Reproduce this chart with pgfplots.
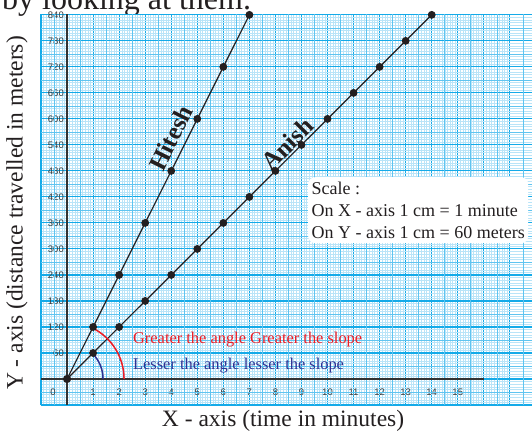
\documentclass[border=0pt]{standalone}
\usepackage{fontspec}
\setmainfont{Liberation Serif}
\newfontfamily\tickfont{Liberation Sans}
\usepackage{pgfplots}
\pgfplotsset{compat=1.18}
\definecolor{gmajor}{RGB}{20,170,232}
\definecolor{gmid}{RGB}{95,196,240}
\definecolor{gminor}{RGB}{185,228,248}
\definecolor{myred}{RGB}{237,28,36}
\definecolor{myblue}{RGB}{46,49,146}
\definecolor{txt}{RGB}{35,31,32}
\definecolor{ticktxt}{RGB}{60,60,60}

\begin{document}
\begin{tikzpicture}[x=1pt,y=1pt]
\useasboundingbox (0,0) rectangle (532,432);
\node[anchor=base west, inner sep=0pt, font=\fontsize{32}{36}\selectfont, text=txt] at (2,422) {by looking at them.};
\begin{axis}[
  at={(41pt,27pt)}, anchor=south west,
  scale only axis, width=491pt, height=391pt,
  xmin=-1, xmax=17.85, ymin=-60, ymax=842,
  clip=false,
  axis background/.style={fill=white},
  axis line style={draw=gmajor, line width=0.9pt},
  xtick={-1,0,...,17},
  xticklabels={,,1,2,3,4,5,6,7,8,9,10,11,12,13,14,15,,},
  ytick={-60,0,60,...,840},
  yticklabels={,,60,120,180,240,300,360,420,480,540,600,660,720,780,840},
  minor x tick num=9,
  minor y tick num=9,
  grid=both,
  major grid style={draw=gmajor, line width=1.1pt},
  minor grid style={draw=gminor, line width=0.45pt},
  extra x ticks={-0.5,0.5,...,17.5},
  extra x tick labels={},
  extra x tick style={grid=major, major grid style={draw=gmid, line width=0.6pt}, xticklabel={}},
  extra y ticks={-30,30,...,810},
  extra y tick labels={},
  extra y tick style={grid=major, major grid style={draw=gmid, line width=0.6pt}, yticklabel={}},
  major tick length=0pt, minor tick length=0pt,
  xticklabel style={anchor=center, yshift=13pt, inner sep=0pt, font=\tickfont\fontsize{9.5}{10}\selectfont, text=ticktxt},
  yticklabel style={anchor=east, xshift=23pt, inner sep=0pt, font=\tickfont\fontsize{9.5}{10}\selectfont, text=ticktxt},
  xlabel={X - axis (time in minutes)},
  ylabel={Y - axis (distance travelled in meters)},
  xlabel style={at={(axis description cs:0.493,-0.041)}, anchor=center, font=\fontsize{23.5}{28}\selectfont, text=txt},
  ylabel style={at={(axis description cs:-0.0489,0.491)}, anchor=center, font=\fontsize{23.5}{28}\selectfont, text=txt},
]
% axes lines
\draw[line width=1.6pt, black!80] (axis cs:0,-60) -- (axis cs:0,842);
\draw[line width=1.6pt, black!80] (axis cs:-1,0) -- (axis cs:16,0);
\node[font=\tickfont\fontsize{9.5}{10}\selectfont, text=ticktxt, inner sep=0pt] at (axis cs:-0.54,-30) {0};

% Hitesh
\addplot[txt, line width=1.2pt, mark=*, mark size=3.3pt, mark options={fill=txt}]
  coordinates {(0,0)(1,120)(2,240)(3,360)(4,480)(5,600)(6,720)(7,840)};
% Anish
\addplot[txt, line width=1.2pt, mark=*, mark size=3.3pt, mark options={fill=txt}]
  coordinates {(0,0)(1,60)(2,120)(3,180)(4,240)(5,300)(6,360)(7,420)(8,480)(9,540)(10,600)(11,660)(12,720)(13,780)(14,840)};

% angle arcs
\draw[myred, line width=1.5pt] (axis cs:0,0) ++(63.43:57pt) arc[start angle=63.43, end angle=0, radius=57pt];
\draw[myblue, line width=1.5pt] (axis cs:0,0) ++(44.95:36pt) arc[start angle=44.95, end angle=0, radius=36pt];

\node[anchor=west, inner sep=0pt, text=myred, font=\fontsize{16.4}{19}\selectfont] at (axis cs:2.53,92) {Greater the angle Greater the slope};
\node[anchor=west, inner sep=0pt, text=myblue, font=\fontsize{16.4}{19}\selectfont] at (axis cs:2.53,30) {Lesser the angle lesser the slope};

\node[rotate=63.4, text=txt, inner sep=0pt, font=\bfseries\fontsize{25}{27}\selectfont] at (axis cs:3.99,556) {Hitesh};
\node[rotate=45, text=txt, inner sep=0pt, font=\bfseries\fontsize{25}{27}\selectfont] at (axis cs:8.46,543) {Anish};
\end{axis}

% scale box
\node[anchor=north west, fill=white, rounded corners=7pt, inner xsep=2pt, inner ysep=3pt, align=left, text=txt,
      minimum width=220pt, minimum height=66pt, font=\fontsize{18}{22}\selectfont]
  at (308,255) {Scale :\\On X - axis 1 cm = 1 minute\\On Y - axis 1 cm = 60 meters};
\end{tikzpicture}
\end{document}
